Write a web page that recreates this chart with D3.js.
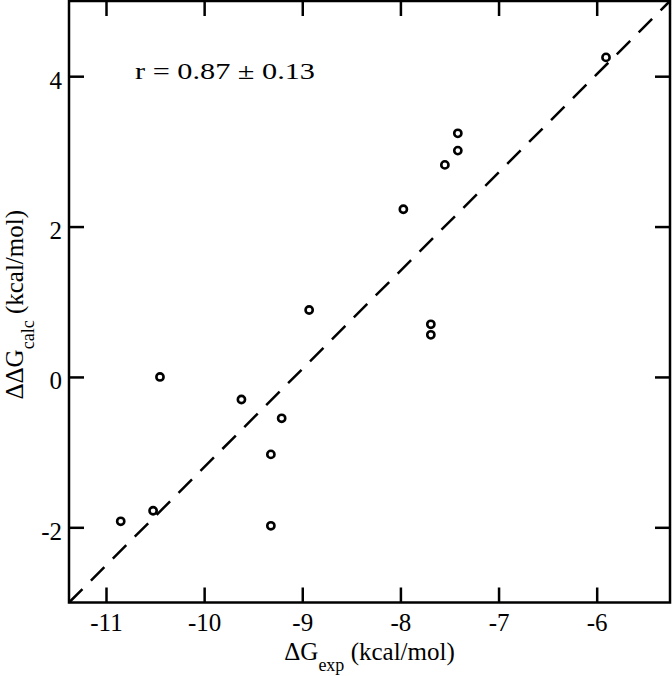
<!DOCTYPE html>
<html>
<head>
<meta charset="utf-8">
<script src="https://cdn.jsdelivr.net/npm/d3@7"></script>
<style>
  body { margin: 0; background: #fff; }
  text { font-family: "Liberation Serif", "DejaVu Serif", serif; fill: #000; }
</style>
</head>
<body>
<script>
// experimental vs calculated binding free energies (kcal/mol)
var dGexp  = [-5.905, -7.415, -7.415, -7.547, -7.97, -8.93, -7.69, -7.69, -10.45, -9.62, -9.21, -9.32, -10.52, -10.85, -9.32];
var ddGcalc = [4.25, 3.24, 3.01, 2.82, 2.23, 0.89, 0.70, 0.56, 0.0, -0.30, -0.55, -1.03, -1.78, -1.92, -1.98];

// dashed line, runs corner to corner of the graph
var fitX = [-11.377, -5.253];
var fitY = [-3, 5];

var xTicks = [-11, -10, -9, -8, -7, -6];
var yTicks = [-2, 0, 2, 4];

var margin = {top: 1, right: 2, bottom: 73.5, left: 69},
    width = 672 - margin.left - margin.right,
    height = 676 - margin.top - margin.bottom;

var svg = d3.select("body")
    .append("svg")
    .attr("width", 672)
    .attr("height", 676)
    .append("g")
    .attr("transform", "translate(" + margin.left + "," + margin.top + ")");

var x = d3.scaleLinear().domain([-11.377, -5.253]).range([0, width]);
var y = d3.scaleLinear().domain([-3, 5]).range([height, 0]);

// plain hyphen for negatives, like the original
var fmt = function(d) { return String(d); };

// ticks pointing inward, on all four sides
svg.append("g")
    .attr("transform", "translate(0," + height + ")")
    .call(d3.axisBottom(x).tickValues(xTicks).tickSizeInner(-15).tickSizeOuter(0).tickPadding(11).tickFormat(fmt))
    .call(g => g.select(".domain").remove());
svg.append("g")
    .call(d3.axisTop(x).tickValues(xTicks).tickSizeInner(-15).tickSizeOuter(0).tickFormat(""))
    .call(g => g.select(".domain").remove());
svg.append("g")
    .attr("class", "yl")
    .call(d3.axisLeft(y).tickValues(yTicks).tickSizeInner(-15).tickSizeOuter(0).tickPadding(7).tickFormat(fmt))
    .call(g => g.select(".domain").remove());
svg.append("g")
    .attr("transform", "translate(" + width + ",0)")
    .call(d3.axisRight(y).tickValues(yTicks).tickSizeInner(-15).tickSizeOuter(0).tickFormat(""))
    .call(g => g.select(".domain").remove());

svg.selectAll("g").attr("font-family", "'Liberation Serif', serif");
svg.selectAll(".tick line").attr("stroke", "#000").attr("stroke-width", 2.5);
svg.selectAll(".tick text")
    .style("font-family", "'Liberation Serif', serif")
    .style("font-size", "25px")
    .attr("fill", "#000");
svg.selectAll(".yl .tick text").attr("dy", "0.48em");

// frame
svg.append("rect")
    .attr("width", width)
    .attr("height", height)
    .attr("fill", "none")
    .attr("stroke", "#000")
    .attr("stroke-width", 2.5);

// dashed line
svg.append("path")
    .datum(d3.zip(fitX, fitY))
    .attr("fill", "none")
    .attr("stroke", "#000")
    .attr("stroke-width", 2.5)
    .attr("stroke-dasharray", "19,12")
    .attr("d", d3.line().x(d => x(d[0])).y(d => y(d[1])));

// points
svg.selectAll("circle.pt")
    .data(d3.zip(dGexp, ddGcalc))
    .enter().append("circle")
    .attr("class", "pt")
    .attr("cx", d => x(d[0]))
    .attr("cy", d => y(d[1]))
    .attr("r", 3.6)
    .attr("fill", "#fff")
    .attr("stroke", "#000")
    .attr("stroke-width", 2.6);

// correlation label
svg.append("text")
    .attr("x", 66)
    .attr("y", 78)
    .attr("textLength", 180)
    .attr("lengthAdjust", "spacingAndGlyphs")
    .style("font-size", "24px")
    .text("r = 0.87 \u00b1 0.13");

// x axis title
var xt = svg.append("text")
    .attr("x", width / 2)
    .attr("y", height + 57)
    .attr("text-anchor", "middle")
    .style("font-size", "25px");
xt.append("tspan").text("\u0394G");
xt.append("tspan").attr("dy", 11).style("font-size", "18px").text("exp");
xt.append("tspan").attr("dy", -11).text("\u00a0(kcal/mol)");

// y axis title
var yt = svg.append("text")
    .attr("transform", "translate(" + (-46) + "," + (height / 2 + 3) + ") rotate(-90)")
    .attr("text-anchor", "middle")
    .style("font-size", "25px");
yt.append("tspan").text("\u0394\u0394G");
yt.append("tspan").attr("dy", 11).style("font-size", "18px").text("calc");
yt.append("tspan").attr("dy", -11).text("\u00a0(kcal/mol)");
</script>
</body>
</html>
